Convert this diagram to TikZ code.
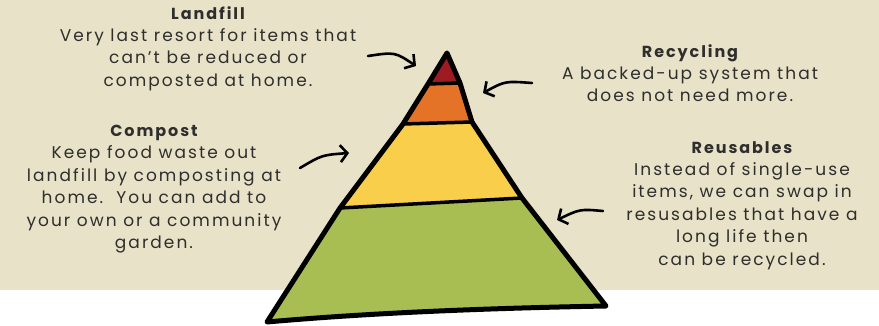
\documentclass[tikz,border=0pt]{standalone}
\usepackage{fontspec}
\setmainfont{Poppins}[LetterSpace=12]
\usetikzlibrary{arrows.meta}
\definecolor{paper}{HTML}{E8E2C8}
\definecolor{ink}{HTML}{2E2E2C}
\definecolor{lfred}{HTML}{9E1C21}
\definecolor{rcorange}{HTML}{E47227}
\definecolor{cpyellow}{HTML}{F9CE4A}
\definecolor{rugreen}{HTML}{A8BE52}
\newcommand{\heading}[1]{{\fontsize{16}{22.4}\selectfont\bfseries #1}}

\begin{document}
\begin{tikzpicture}[x=1pt, y=-1pt, every node/.style={font=\fontsize{17}{22.4}\selectfont, text=ink, align=center, inner sep=0pt},
	hand/.style={line width=2.6pt, line cap=round, -{Straight Barb[length=7pt, width=17pt]}},
	rim/.style={line width=5pt, line join=round, line cap=round}]
	\useasboundingbox (0,0) rectangle (879,326);
	\fill[paper] (0,0) rectangle (879,290);
	\coordinate (top) at (447,53);
	\coordinate (r1l) at (428,84); \coordinate (r1r) at (460,83);
	\coordinate (o2l) at (403,124); \coordinate (o2r) at (472,122);
	\coordinate (y3l) at (340,208); \coordinate (y3r) at (522,198);
	\coordinate (g4l) at (267,322); \coordinate (g4r) at (606,306);
	\fill[lfred] (top) -- (r1r) -- (r1l) -- cycle;
	\fill[rcorange] (r1l) -- (r1r) -- (o2r) -- (o2l) -- cycle;
	\fill[cpyellow] (o2l) -- (o2r) -- (y3r) -- (y3l) -- cycle;
	\fill[rugreen] (y3l) -- (y3r) -- (g4r) .. controls (500,308) and (380,312) .. (g4l) -- cycle;
	\foreach \a/\b in {r1l/r1r, o2l/o2r, y3l/y3r} {\draw[rim, line width=3.5pt] (\a) -- (\b);}
	\draw[rim] (top) -- (r1r) -- (o2r) -- (y3r) -- (g4r) .. controls (500,308) and (380,312) .. (g4l) -- (y3l) -- (o2l) -- (r1l) -- cycle;
	\node[anchor=north] (landfill) at (208,6) {\heading{Landfill}\\Very last resort for items that\\can't be reduced or\\composted at home.};
	\node[anchor=north] (recycling) at (690,44) {\heading{Recycling}\\A backed-up system that\\does not need more.};
	\node[anchor=north] (compost) at (154,125) {\heading{Compost}\\Keep food waste out\\landfill by composting at\\home.\ \ You can add to\\your own or a community\\garden.};
	\node[anchor=north] (reusables) at (742,141) {\heading{Reusables}\\Instead of single-use\\items, we can swap in\\resusables that have a\\long life then\\can be recycled.};
	\coordinate (lf-tail) at (368,56); \coordinate (lf-tip) at (416,66);
	\coordinate (rc-tail) at (532,83); \coordinate (rc-tip) at (483,93);
	\coordinate (cp-tail) at (300,168); \coordinate (cp-tip) at (349,153);
	\coordinate (ru-tail) at (603,211); \coordinate (ru-tip) at (557,220);
	\draw[hand] (lf-tail) .. controls (395,52) .. (lf-tip);
	\draw[hand] (rc-tail) .. controls (505,81) .. (rc-tip);
	\draw[hand] (cp-tail) .. controls (322,155) .. (cp-tip);
	\draw[hand] (ru-tail) .. controls (580,209) .. (ru-tip);
\end{tikzpicture}
\end{document}
